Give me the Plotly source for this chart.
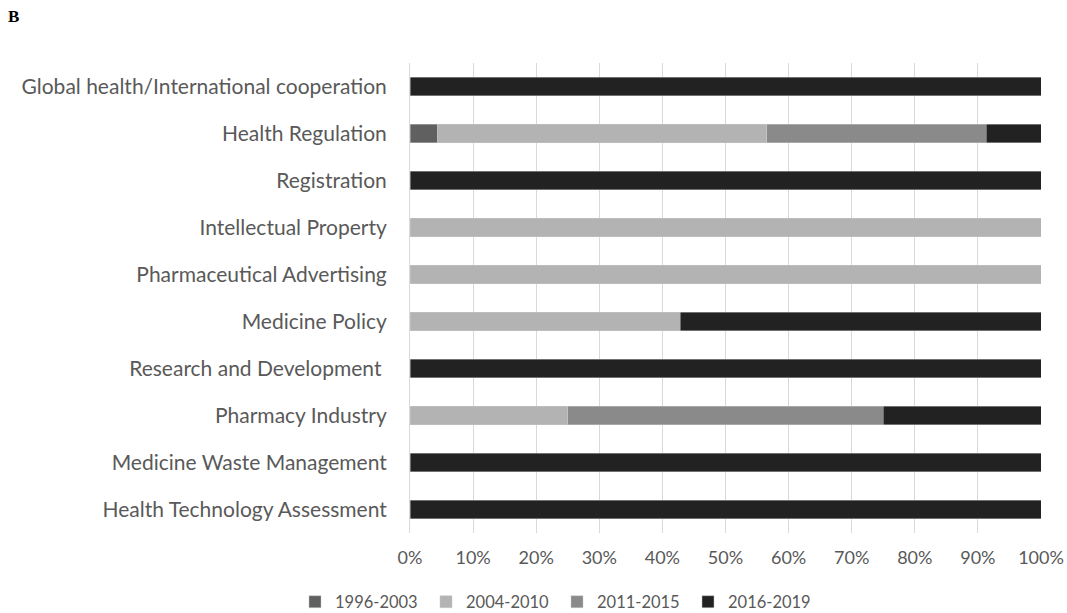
import plotly.graph_objects as go

categories = [
    "Global health/International cooperation",
    "Health Regulation",
    "Registration",
    "Intellectual Property",
    "Pharmaceutical Advertising",
    "Medicine Policy",
    "Research and Development ",
    "Pharmacy Industry",
    "Medicine Waste Management",
    "Health Technology Assessment",
]
series_names = ["1996-2003", "2004-2010", "2011-2015", "2016-2019"]
s1996_2003 = [0, 4.35, 0, 0, 0, 0, 0, 0, 0, 0]
s2004_2010 = [0, 52.17, 0, 100, 100, 42.86, 0, 25, 0, 0]
s2011_2015 = [0, 34.78, 0, 0, 0, 0, 0, 50, 0, 0]
s2016_2019 = [100, 8.70, 100, 0, 0, 57.14, 100, 25, 100, 100]
colors = ["#606060", "#b3b3b3", "#8a8a8a", "#222222"]
tick_vals = [0, 10, 20, 30, 40, 50, 60, 70, 80, 90, 100]
tick_text = [f"{v}%" for v in tick_vals]

W, H = 1067, 613
L, R, T, B = 410, 26, 63, 80
PW, PH = W - L - R, H - T - B

fig = go.Figure()
for name, vals, col in zip(series_names, [s1996_2003, s2004_2010, s2011_2015, s2016_2019], colors):
    fig.add_trace(go.Bar(
        y=categories, x=vals, name=name, orientation="h",
        marker=dict(color=col, line=dict(color="rgba(200,200,200,0.6)", width=0.8)),
    ))

font = "Lato, Open Sans, sans-serif"
fig.update_layout(
    barmode="stack",
    bargap=0.6,
    width=W, height=H,
    margin=dict(l=L, r=R, t=T, b=B, autoexpand=False),
    plot_bgcolor="white", paper_bgcolor="white",
    font=dict(family=font, size=18, color="#595959"),
    xaxis=dict(range=[0, 100], tickvals=tick_vals, ticktext=tick_text,
               showgrid=True, gridcolor="#d9d9d9", gridwidth=1, zeroline=False,
               showline=False, ticks="", tickfont=dict(size=18, color="#595959"),
               ticklabelstandoff=12, fixedrange=True, automargin=False),
    yaxis=dict(autorange="reversed", showgrid=False, showline=True,
               linecolor="#d9d9d9", linewidth=1, ticks="", automargin=False,
               tickfont=dict(size=21, color="#595959"), ticklabelstandoff=18),
    legend=dict(orientation="h", x=(557 - L) / PW, xanchor="center",
                yref="container", y=(H - 602) / H, yanchor="middle",
                font=dict(size=16.5, color="#595959"), traceorder="normal",
                itemwidth=30, entrywidth=86, entrywidthmode="pixels"),
    showlegend=True,
    annotations=[dict(text="<b>B</b>", xref="paper", yref="paper",
                      x=(13 - L) / PW, y=1 + (T - 17) / PH,
                      xanchor="center", yanchor="middle", showarrow=False,
                      font=dict(family="Liberation Serif, serif", size=17, color="black"))],
)
fig.write_html("out.html", config={"displayModeBar": False},
               post_script="document.body.style.margin='0';document.body.style.overflow='hidden';")
